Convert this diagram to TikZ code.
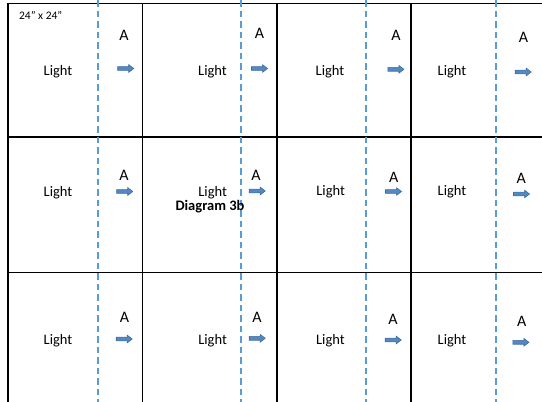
\documentclass[tikz,border=0pt]{standalone}
\usepackage{fontspec}
\setmainfont{Carlito}
\usepackage{tikz}
\usetikzlibrary{shapes.arrows}
\definecolor{cutblue}{RGB}{91, 155, 213}
\definecolor{arrowfill}{RGB}{84, 136, 196}
\definecolor{arrowline}{RGB}{62, 108, 152}
\tikzset{
  gridline/.style={draw=black, line width=1.8pt},
  cutline/.style={draw=cutblue, line width=2pt, dash pattern=on 6.5pt off 4pt},
  lightlabel/.style={
    font=\fontsize{14.5}{16}\selectfont,
    inner sep=0pt, anchor=base
  },
  letterlabel/.style={
    font=\fontsize{16}{18}\selectfont,
    inner sep=0pt, anchor=base
  },
  sizelabel/.style={
    font=\fontsize{11.5}{13}\selectfont,
    inner sep=0pt, anchor=base
  },
  titlelabel/.style={
    font=\fontsize{14.5}{16}\selectfont\bfseries,
    inner sep=0pt, anchor=base
  },
  flowarrow/.style={
    single arrow, draw=arrowline, fill=arrowfill, line width=0.6pt,
    inner xsep=0pt, inner ysep=1.6pt,
    minimum height=16pt, single arrow head extend=1.9pt,
    single arrow tip angle=75
  }
}

\begin{document}
\begin{tikzpicture}[x=1pt, y=-1pt]

  \useasboundingbox (0,0) rectangle (542,402);

  % --- Tiles ---
  \draw[gridline] (7.8,402) -- (7.8,3.5) -- (542,3.5);
  \draw[gridline] (7.8,137) -- (542,137);
  \draw[gridline] (7.8,272.5) -- (542,272.5);
  \draw[gridline] (142.5,3.5) -- (142.5,402);
  \draw[gridline] (277,3.5) -- (277,402);
  \draw[gridline] (411,3.5) -- (411,402);

  % --- Cut lines ---
  \draw[cutline] (97.5,0) -- (97.5,402);
  \draw[cutline] (240.5,0) -- (240.5,402);
  \draw[cutline] (366,0) -- (366,402);
  \draw[cutline] (496,0) -- (496,402);

  \node[sizelabel] (size) at (40.7,19.5) {24” x 24”};

  % --- Row 1 ---
  \node[lightlabel] (light11) at (58,75.7) {Light};
  \node[lightlabel] (light12) at (212.5,75.7) {Light};
  \node[lightlabel] (light13) at (330,75.7) {Light};
  \node[lightlabel] (light14) at (452,75.7) {Light};
  \node[letterlabel] (letter11) at (124,40.2) {A};
  \node[letterlabel] (letter12) at (259.5,38.2) {A};
  \node[letterlabel] (letter13) at (396,40.7) {A};
  \node[letterlabel] (letter14) at (523.5,42.7) {A};
  \node[flowarrow] (arrow11) at (124.5,68.5) {};
  \node[flowarrow] (arrow12) at (258.3,68.5) {};
  \node[flowarrow] (arrow13) at (394.7,69.3) {};
  \node[flowarrow] (arrow14) at (522,72) {};

  % --- Row 2 ---
  \node[lightlabel] (light21) at (58,196.4) {Light};
  \node[lightlabel] (light22) at (212.7,196.4) {Light};
  \node[lightlabel] (light23) at (330.7,195.7) {Light};
  \node[lightlabel] (light24) at (452,195.7) {Light};
  \node[titlelabel] (title) at (210,210.5) {Diagram 3b};
  \node[letterlabel] (letter21) at (124,180.2) {A};
  \node[letterlabel] (letter22) at (256,180.2) {A};
  \node[letterlabel] (letter23) at (393.7,182.2) {A};
  \node[letterlabel] (letter24) at (521.3,183.2) {A};
  \node[flowarrow] (arrow21) at (123.5,191.5) {};
  \node[flowarrow] (arrow22) at (256,191) {};
  \node[flowarrow] (arrow23) at (392.3,191.5) {};
  \node[flowarrow] (arrow24) at (520.3,194) {};

  % --- Row 3 ---
  \node[lightlabel] (light31) at (58,344.7) {Light};
  \node[lightlabel] (light32) at (212.6,344.7) {Light};
  \node[lightlabel] (light33) at (330.4,344.7) {Light};
  \node[lightlabel] (light34) at (452,344.7) {Light};
  \node[letterlabel] (letter31) at (124.5,322.2) {A};
  \node[letterlabel] (letter32) at (257,322.5) {A};
  \node[letterlabel] (letter33) at (393,324.2) {A};
  \node[letterlabel] (letter34) at (521.7,326.5) {A};
  \node[flowarrow] (arrow31) at (123,339) {};
  \node[flowarrow] (arrow32) at (256,338.3) {};
  \node[flowarrow] (arrow33) at (392,340) {};
  \node[flowarrow] (arrow34) at (519.7,342.3) {};

\end{tikzpicture}
\end{document}
